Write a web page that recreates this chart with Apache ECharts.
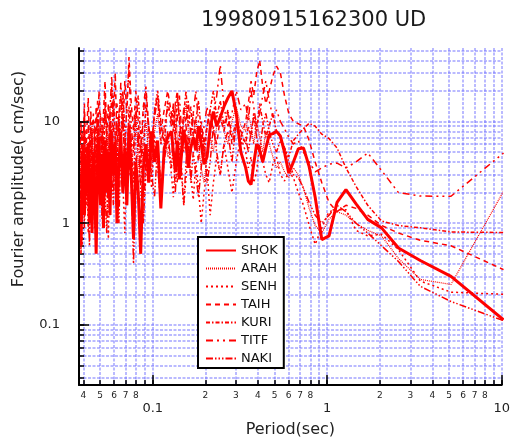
<!DOCTYPE html>
<html>
<head>
<meta charset="utf-8">
<script src="https://cdn.jsdelivr.net/npm/echarts@6/dist/echarts.min.js"></script>
<style>html,body{margin:0;padding:0;background:#fff;}#c{width:513px;height:443px;}</style>
</head>
<body>
<div id="c"></div>
<script>
// Period (sec) grid shared by all stations
var periods = [
0.0382,0.0388,0.0394,0.0400,0.0406,0.0413,0.0420,0.0427,0.0434,0.0441,0.0449,0.0457,0.0465,0.0474,0.0483,0.0492,
0.0502,0.0512,0.0522,0.0533,0.0545,0.0557,0.0569,0.0582,0.0595,0.0610,0.0624,0.0640,0.0656,0.0674,0.0692,0.0711,
0.0731,0.0753,0.0776,0.0800,0.0826,0.0853,0.0883,0.0914,0.0948,0.0985,0.1024,0.1067,0.1113,0.1164,0.1219,
0.128,0.1313,0.1347,0.1384,0.1422,0.1463,0.1506,0.1552,0.160,0.1652,0.1707,0.1766,0.1829,0.1896,0.1969,0.2048,
0.2133,0.2226,0.2327,0.2438,0.256,0.2695,0.2844,0.3012,0.32,
0.341,0.353,0.366,0.379,0.394,0.410,0.427,0.445,0.465,0.488,0.512,0.539,0.569,0.602,0.640,0.683,0.731,0.788,0.853,0.931,
1.024,1.138,1.28,1.463,1.707,2.048,2.56,3.413,5.12,10.24];

var shok = [
1.5,0.6,3.0,5.5,1.2,4.0,2.0,6.0,1.0,3.5,0.8,5.0,2.5,0.5,3.0,7.0,1.5,4.5,0.9,6.5,2.0,5.0,1.2,8.0,3.0,6.0,1.0,4.0,7.5,2.0,5.5,1.5,
9.0,3.0,0.7,4.0,2.0,0.5,3.5,6.0,2.5,8.0,4.0,6.5,1.4,5.5,7.0,
8.0,5.0,3.2,6.5,2.7,4.8,8.3,6.0,3.5,5.5,7.0,5.2,9.0,6.0,3.8,4.5,8.5,12.5,9.0,11.0,14.0,17.0,20.0,12.0,5.0,
3.5,2.6,2.4,3.8,6.0,5.2,4.0,5.5,7.4,7.6,8.0,7.2,5.0,3.1,4.0,5.4,5.5,3.6,1.8,0.69,
0.75,1.6,2.14,1.55,1.09,0.90,0.57,0.43,0.30,0.112];

var arah = [
2.5,6.0,1.0,4.0,9.0,2.0,5.0,1.2,7.0,3.0,10.0,2.2,6.0,1.5,8.0,4.0,12.0,3.0,6.5,2.0,9.0,4.5,14.0,5.0,2.5,8.0,3.5,11.0,6.0,2.0,7.5,4.0,
10.0,3.0,6.0,12.0,4.0,2.5,7.0,10.0,5.0,3.0,8.0,12.0,6.0,9.0,4.5,
5.0,9.0,14.0,7.0,4.0,6.5,10.0,15.0,8.0,5.0,7.0,11.0,6.0,3.5,2.5,4.5,7.0,5.0,9.0,12.0,8.0,6.0,10.0,14.0,9.0,
8.0,12.0,9.0,6.0,10.0,7.0,5.0,8.0,6.0,4.5,3.5,4.0,3.2,2.8,3.5,3.0,2.2,1.4,0.95,0.8,
1.1,1.3,1.2,1.0,0.85,0.75,0.45,0.28,0.25,2.06];

var senh = [
1.0,3.5,0.6,2.5,5.5,1.4,4.0,0.8,3.0,6.5,1.8,4.5,0.9,2.8,8.0,2.0,5.0,1.1,3.5,7.0,2.4,0.7,4.0,9.0,2.0,5.5,1.5,3.5,8.5,2.5,0.8,5.0,
3.0,7.0,1.2,4.5,2.0,6.0,1.0,3.0,5.5,2.2,7.5,3.5,1.6,4.5,6.5,
3.0,1.8,4.5,2.5,6.0,3.5,1.5,2.8,5.0,3.0,1.7,4.0,2.2,1.0,2.0,3.5,1.2,2.5,4.5,3.0,6.0,3.5,2.0,4.0,7.0,
5.0,3.5,4.5,2.5,3.2,6.0,4.0,3.0,2.5,3.8,4.5,3.0,2.6,3.2,2.8,2.0,1.5,0.95,0.62,0.9,
1.3,1.36,1.36,0.85,0.75,0.78,0.55,0.27,0.21,0.2];

var taih = [
4.0,10.0,2.5,7.0,15.0,3.5,9.0,17.0,5.0,2.0,8.0,12.0,4.0,14.0,6.0,20.0,8.0,3.0,12.0,25.0,7.0,15.0,4.5,22.0,10.0,30.0,6.0,12.0,18.0,8.0,25.0,12.0,
43.0,15.0,8.0,20.0,10.0,5.0,14.0,22.0,9.0,6.0,12.0,18.0,8.0,13.0,20.0,
12.0,8.0,15.0,20.0,10.0,6.0,14.0,9.0,5.0,8.0,12.0,7.0,4.0,10.0,6.0,9.0,13.0,8.0,6.0,11.0,8.0,12.0,6.0,9.0,7.0,
10.0,15.0,25.0,18.0,30.0,40.0,22.0,15.0,20.0,28.0,35.0,30.0,18.0,12.0,10.0,9.5,9.0,6.5,4.0,2.5,
1.6,1.3,1.5,1.4,1.2,0.95,0.8,0.68,0.6,0.35];

var kuri = [
3.0,1.2,5.0,2.0,8.0,3.5,1.5,6.0,2.5,10.0,4.0,1.8,7.0,3.0,12.0,5.0,2.0,9.0,4.0,15.0,6.0,2.5,10.0,4.5,18.0,7.0,3.0,12.0,5.0,20.0,8.0,3.5,
14.0,6.0,2.5,11.0,18.0,7.0,4.0,15.0,9.0,5.0,13.0,20.0,10.0,6.0,16.0,
10.0,14.0,7.0,18.0,11.0,6.0,12.0,20.0,9.0,14.0,7.0,10.0,16.0,8.0,4.5,9.0,13.0,20.0,11.0,16.0,9.0,13.0,7.0,10.0,8.0,
6.0,9.0,7.0,12.0,8.0,15.0,10.0,7.0,9.0,12.0,8.0,7.0,5.5,4.5,6.5,7.5,8.5,9.6,9.0,7.5,
6.8,5.5,3.5,2.3,1.5,1.05,0.95,0.9,0.82,0.81];

var titf = [
5.0,2.0,8.0,3.0,12.0,4.5,2.0,9.0,3.5,14.0,5.5,2.5,10.0,4.0,16.0,6.0,2.8,11.0,5.0,18.0,7.0,3.0,13.0,28.0,9.0,4.0,15.0,6.5,24.0,10.0,4.5,16.0,
32.0,9.0,5.0,14.0,7.0,3.5,12.0,20.0,8.0,4.0,11.0,17.0,6.0,9.0,14.0,
9.0,15.0,6.0,11.0,18.0,8.0,5.0,10.0,16.0,7.0,12.0,20.0,10.0,6.0,9.0,14.0,8.0,12.0,18.0,36.0,14.0,9.0,12.0,20.0,13.0,
15.0,10.0,20.0,14.0,9.0,12.0,18.0,25.0,16.0,11.0,13.0,10.0,8.5,7.0,6.0,6.5,5.0,4.0,3.2,3.5,
3.8,3.9,3.5,4.0,4.9,3.3,2.0,1.85,1.84,4.9];

var naki = [
2.0,0.5,1.5,4.0,0.9,3.0,6.0,1.5,0.6,3.5,8.0,2.0,1.0,5.0,2.5,9.0,3.0,1.2,6.0,2.0,0.8,4.5,10.0,3.0,1.5,7.0,2.5,1.0,5.5,12.0,3.5,1.5,
6.0,2.8,0.4,3.0,8.0,2.0,1.0,4.5,9.0,3.0,1.8,6.0,2.5,4.0,8.0,
3.5,6.0,2.0,4.5,8.0,3.0,1.5,4.0,7.0,2.5,5.0,3.0,1.8,3.5,6.5,2.5,4.0,9.0,5.0,3.0,6.0,8.0,4.0,10.0,6.0,
7.0,5.0,8.0,11.0,7.0,5.0,9.0,12.0,8.0,6.0,5.0,6.5,5.5,4.0,3.0,2.8,2.2,1.6,1.2,1.0,
1.2,1.5,1.3,1.0,0.8,0.6,0.42,0.24,0.17,0.11];

var seriesNames = ['SHOK','ARAH','SENH','TAIH','KURI','TITF','NAKI'];
var seriesValues = [shok, arah, senh, taih, kuri, titf, naki];

// axis ranges
var xRange = [0.0378, 10];
var yRange = [0.02566, 52.8];

// tick values
var xMinorTicks = [0.04,0.05,0.06,0.07,0.08,0.09,0.2,0.3,0.4,0.5,0.6,0.7,0.8,0.9,2,3,4,5,6,7,8,9];
var xMinorLabels = [0.04,0.05,0.06,0.07,0.08,0.2,0.3,0.4,0.5,0.6,0.7,0.8,2,3,4,5,6,7,8];
var xMajorTicks = [0.1,1,10];
var xMajorLabelText = ['0.1','1','10'];
var yMinorTicks = [0.03,0.04,0.05,0.06,0.07,0.08,0.09,0.2,0.3,0.4,0.5,0.6,0.7,0.8,0.9,2,3,4,5,6,7,8,9,20,30,40,50];
var yMajorTicks = [0.1,1,10];
var yMajorLabelText = ['0.1','1','10'];

var L = function (v) { return Math.log10(v); };
var FONT = 'DejaVu Sans';
var GRIDCOLOR = 'rgba(115,115,255,0.65)';

var lineStyles = [
  {width: 3, type: 'solid'},
  {width: 1.2, type: [1, 1]},
  {width: 1.5, type: [2, 3]},
  {width: 1.5, type: [5, 4]},
  {width: 1.5, type: [4, 2, 1.5, 2]},
  {width: 1.5, type: [7, 4, 2, 4, 2, 4]},
  {width: 1.5, type: [7, 2, 1.5, 2, 1.5, 2, 1.5, 2]}
];

var series = seriesNames.map(function (name, i) {
  return {
    name: name,
    type: 'line',
    xAxisIndex: 0,
    yAxisIndex: 0,
    symbol: 'none',
    showSymbol: false,
    clip: true,
    z: 10 - i,
    lineStyle: {color: '#ff0000', width: lineStyles[i].width, type: lineStyles[i].type},
    itemStyle: {color: '#ff0000'},
    data: periods.map(function (p, k) { return [p, seriesValues[i][k]]; })
  };
});

var xAll = xMinorTicks.concat(xMajorTicks).map(L);
var yAll = yMinorTicks.concat(yMajorTicks).map(L);
var xExt = [L(xRange[0]), L(xRange[1])];
var yExt = [L(yRange[0]), L(yRange[1])];

function minorLabel(v) {
  var e = Math.floor(v + 1e-9);
  return String(Math.round(Math.pow(10, v - e)));
}

var option = {
  animation: false,
  backgroundColor: '#ffffff',
  textStyle: {fontFamily: FONT},
  title: {
    text: '19980915162300 UD',
    left: 196, top: 5,
    textStyle: {fontFamily: FONT, fontSize: 21, fontWeight: 'normal', color: '#1a1a1a'}
  },
  grid: {left: 79, right: 10, top: 48, bottom: 57, containLabel: false},
  legend: {
    data: seriesNames,
    orient: 'vertical',
    left: 198, top: 237,
    itemWidth: 30, itemHeight: 12, itemGap: 5,
    padding: [7, 6, 3, 7],
    backgroundColor: '#ffffff',
    borderColor: '#000000', borderWidth: 2, borderRadius: 0,
    itemStyle: {opacity: 0},
    textStyle: {fontFamily: FONT, fontSize: 13, color: '#111'},
    selectedMode: false
  },
  graphic: [{
    type: 'text',
    x: 19, y: 179, rotation: Math.PI / 2,
    style: {text: 'Fourier amplitude( cm/sec)', fontFamily: FONT, fontSize: 16, fill: '#222',
      align: 'center', verticalAlign: 'middle'}
  }],
  xAxis: [
    {type: 'log', min: xRange[0], max: xRange[1], show: false},
    {
      type: 'value', min: xExt[0], max: xExt[1], position: 'bottom',
      axisLine: {show: false, onZero: false},
      axisTick: {show: true, inside: true, length: 5, customValues: xAll, lineStyle: {color: '#000', width: 1.5}},
      axisLabel: {show: true, customValues: xMinorLabels.map(L), formatter: minorLabel, margin: 6,
        fontFamily: FONT, fontSize: 9, color: '#222'},
      splitLine: {show: true, lineStyle: {color: GRIDCOLOR, width: 1.5, type: [3, 1.5]}},
      z: 1
    },
    {
      type: 'value', min: xExt[0], max: xExt[1], position: 'bottom',
      name: 'Period(sec)', nameLocation: 'middle', nameGap: 37,
      nameTextStyle: {fontFamily: FONT, fontSize: 16, color: '#222'},
      axisLine: {show: true, onZero: false, lineStyle: {color: '#000', width: 2}},
      axisTick: {show: true, inside: true, length: 10, customValues: xMajorTicks.map(L), lineStyle: {color: '#000', width: 1.5}},
      axisLabel: {show: true, customValues: xMajorTicks.map(L),
        formatter: function (v) { return xMajorLabelText[Math.round(v) + 1]; },
        margin: 17, fontFamily: FONT, fontSize: 13, color: '#222'},
      splitLine: {show: false},
      z: 20
    }
  ],
  yAxis: [
    {type: 'log', min: yRange[0], max: yRange[1], show: false},
    {
      type: 'value', min: yExt[0], max: yExt[1], position: 'left',
      axisLine: {show: false, onZero: false},
      axisTick: {show: true, inside: true, length: 5, customValues: yAll, lineStyle: {color: '#000', width: 1.5}},
      axisLabel: {show: false},
      splitLine: {show: true, lineStyle: {color: GRIDCOLOR, width: 1.5, type: [3, 1.5]}},
      z: 1
    },
    {
      type: 'value', min: yExt[0], max: yExt[1], position: 'left',
      axisLine: {show: true, onZero: false, lineStyle: {color: '#000', width: 2}},
      axisTick: {show: true, inside: true, length: 10, customValues: yMajorTicks.map(L), lineStyle: {color: '#000', width: 1.5}},
      axisLabel: {show: true, customValues: [L(0.1), L(10)],
        formatter: function (v) { return yMajorLabelText[Math.round(v) + 1]; },
        margin: 19, fontFamily: FONT, fontSize: 13, color: '#222'},
      splitLine: {show: false},
      z: 20
    },
    {
      type: 'value', min: yExt[0], max: yExt[1], position: 'left',
      axisLine: {show: false, onZero: false},
      axisTick: {show: false},
      axisLabel: {show: true, customValues: [L(1)],
        formatter: function (v) { return yMajorLabelText[Math.round(v) + 1]; },
        margin: 9, fontFamily: FONT, fontSize: 13, color: '#222'},
      splitLine: {show: false}
    }
  ],
  series: series
};

var chart = echarts.init(document.getElementById('c'), null, {renderer: 'canvas'});
chart.setOption(option);
</script>
</body>
</html>
